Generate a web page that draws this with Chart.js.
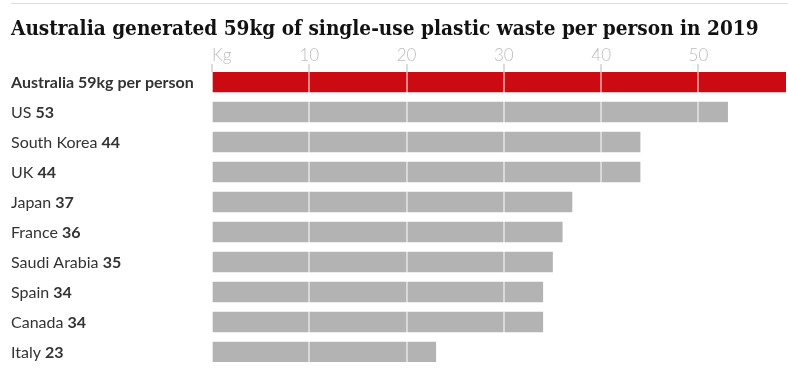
<!DOCTYPE html>
<html>
<head>
<meta charset="utf-8">
<script src="https://cdn.jsdelivr.net/npm/chart.js@4.4.1/dist/chart.umd.min.js"></script>
<style>
  html, body { margin: 0; padding: 0; background: #fff; }
  #wrap { position: relative; width: 788px; height: 390px; overflow: hidden; }
  #rule { position: absolute; left: 11px; top: 3px; right: 0; height: 1px; background: #dcdcdc; }
  h1 {
    position: absolute; left: 11px; top: 16px; margin: 0;
    font-family: 'DejaVu Serif Condensed', 'DejaVu Serif', serif;
    font-weight: bold; font-size: 20.6px; line-height: 24px; font-stretch: condensed;
    color: #121212; white-space: nowrap;
  }
  canvas { position: absolute; left: 0; top: 0; }
</style>
</head>
<body>
<div id="wrap">
  <canvas id="chart" width="788" height="390"></canvas>
  <div id="rule"></div>
  <h1>Australia generated 59kg of single-use plastic waste per person in 2019</h1>
</div>
<script>
const countries = ['Australia', 'US', 'South Korea', 'UK', 'Japan', 'France', 'Saudi Arabia', 'Spain', 'Canada', 'Italy'];
const wastePerPerson = [59, 53, 44, 44, 37, 36, 35, 34, 34, 23];
const highlightLabel = 'Australia 59kg per person';
const xTicks = [0, 10, 20, 30, 40, 50];
const tickLabels = ['Kg', '10', '20', '30', '40', '50'];

const RED = '#cc0a11';
const GREY = '#b3b3b3';
const FONT = 'Lato, "Noto Sans", sans-serif';

// row labels on the left and the kg labels above the axis
const labelsPlugin = {
    id: 'rowLabels',
    afterDraw: function (chart) {
        const ctx = chart.ctx;
        const x = chart.scales.x;
        const y = chart.scales.y;

        ctx.save();
        ctx.fillStyle = '#333';
        ctx.textAlign = 'left';
        ctx.textBaseline = 'alphabetic';
        countries.forEach(function (name, i) {
            const py = y.getPixelForValue(i) + 6;
            if (i === 0) {
                ctx.font = 'bold 16px ' + FONT;
                ctx.fillText(highlightLabel, 11, py);
                return;
            }
            const lead = name + ' ';
            ctx.font = '16px ' + FONT;
            ctx.fillText(lead, 11, py);
            const w = ctx.measureText(lead).width;
            ctx.font = 'bold 16px ' + FONT;
            ctx.fillText(String(wastePerPerson[i]), 11 + w, py);
        });

        ctx.font = '300 17px ' + FONT;
        ctx.fillStyle = '#bdbdbd';
        x.ticks.forEach(function (t, i) {
            const px = x.getPixelForValue(t.value);
            ctx.textAlign = i === 0 ? 'left' : 'center';
            ctx.fillText(tickLabels[i], px, 61);
        });
        ctx.restore();
    }
};

new Chart(document.getElementById('chart'), {
    type: 'bar',
    data: {
        datasets: [{
            data: wastePerPerson.map(function (v, i) { return {x: v, y: i}; }),
            backgroundColor: function (c) { return c.dataIndex === 0 ? RED : GREY; },
            barThickness: 20,
            borderWidth: 0
        }]
    },
    options: {
        indexAxis: 'y',
        responsive: false,
        animation: false,
        events: [],
        layout: {
            padding: {top: 40, left: 212, right: 2, bottom: 28}
        },
        plugins: {
            legend: {display: false},
            tooltip: {enabled: false}
        },
        scales: {
            x: {
                type: 'linear',
                position: 'top',
                min: 0,
                max: 59,
                border: {display: false},
                ticks: {display: false},
                grid: {
                    z: 1,
                    color: function (c) {
                        return c.tick && c.tick.value === 0 ? 'rgba(0,0,0,0)' : 'rgba(255,255,255,0.5)';
                    },
                    lineWidth: 2,
                    tickColor: '#dcdcdc',
                    tickWidth: 2,
                    tickLength: 8
                },
                afterBuildTicks: function (scale) {
                    scale.ticks = xTicks.map(function (v) { return {value: v}; });
                },
                afterFit: function (scale) {
                    scale.height = 32;
                }
            },
            y: {
                type: 'linear',
                display: false,
                reverse: true,
                offset: false,
                grid: {offset: false},
                min: -1 / 3,
                max: countries.length - 1 + 1 / 3
            }
        }
    },
    plugins: [labelsPlugin]
});
</script>
</body>
</html>
